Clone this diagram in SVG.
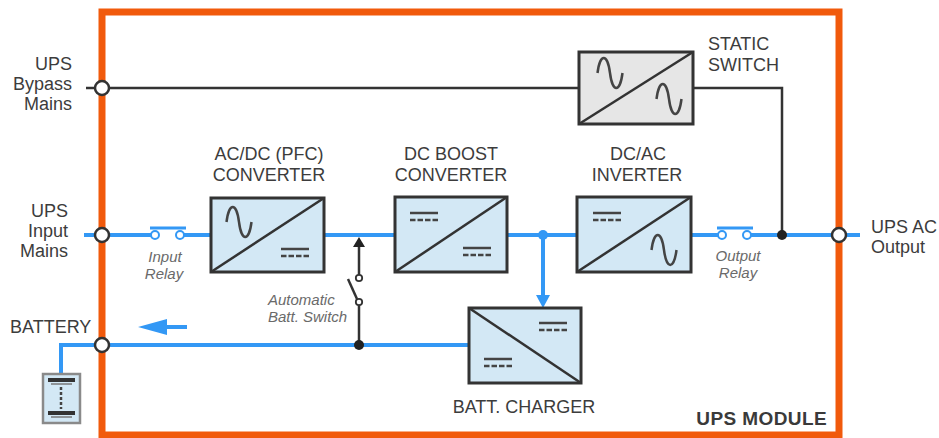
<svg xmlns="http://www.w3.org/2000/svg" xmlns:xlink="http://www.w3.org/1999/xlink" width="939" height="438" viewBox="0 0 939 438">
  <style>
    .lbl{font-family:"Liberation Sans",Arial,sans-serif;font-size:18px;fill:#3c3c3c}
    .it{font-family:"Liberation Sans",Arial,sans-serif;font-size:15px;font-style:italic;fill:#6a6a6a}
    .bold{font-family:"Liberation Sans",Arial,sans-serif;font-size:19px;font-weight:bold;fill:#3a3a3a;letter-spacing:0.4px}
    .box{fill:#D3E8F5;stroke:#333;stroke-width:3}
    .gbox{fill:#E6E6E6;stroke:#333;stroke-width:3}
    .diag{stroke:#333;stroke-width:2.5}
    .sym{fill:none;stroke:#444;stroke-width:2.5}
    .blue{fill:none;stroke:#3398F5;stroke-width:4}
    .dark{fill:none;stroke:#333;stroke-width:2.5}
    .term{fill:#fff;stroke:#333;stroke-width:2.5}
    .rc{fill:#fff;stroke:#3398F5;stroke-width:2}
  </style>
  <defs>
    <path id="sine" d="M-12.5,0 C-10,-20 -2.5,-20 0,0 C2.5,20 10,20 12.5,0" class="sym"/>
    <g id="dc" class="sym">
      <line x1="0" y1="0" x2="28" y2="0"/>
      <line x1="0" y1="7" x2="28" y2="7" stroke-dasharray="5.5 2"/>
    </g>
  </defs>
  <rect width="939" height="438" fill="#fff"/>

  <!-- UPS module frame -->
  <g id="frame">
    <rect x="102" y="12" width="737" height="423" fill="none" stroke="#F15A0C" stroke-width="7"/>
    <text class="bold" x="827" y="425" text-anchor="end">UPS MODULE</text>
  </g>

  <!-- connectors -->
  <g id="connectors">
    <!-- bypass -->
    <line class="dark" x1="86" y1="88" x2="579" y2="88"/>
    <polyline class="dark" points="693,88 782,88 782,236"/>
    <!-- main input line -->
    <line class="blue" x1="84" y1="235" x2="151" y2="235"/>
    <line class="blue" x1="184" y1="235" x2="211" y2="235"/>
    <line class="blue" x1="324" y1="235" x2="395" y2="235"/>
    <line class="blue" x1="507" y1="235" x2="577" y2="235"/>
    <line class="blue" x1="691" y1="235" x2="718" y2="235"/>
    <line class="blue" x1="751" y1="235" x2="860" y2="235"/>
    <!-- charger feed -->
    <line class="blue" x1="543" y1="235" x2="543" y2="297"/>
    <polygon points="536,295 550,295 543,308" fill="#3398F5"/>
    <circle cx="543" cy="235" r="5" fill="#3398F5"/>
    <!-- battery line -->
    <polyline class="blue" points="469,345 61,345 61,374"/>
    <!-- discharge arrow -->
    <line class="blue" x1="187" y1="327" x2="162" y2="327"/>
    <polygon points="138,327 167,319 167,335" fill="#3398F5"/>
    <!-- output junction -->
    <circle cx="782" cy="235" r="5" fill="#222"/>
  </g>

  <!-- Input relay -->
  <g id="input-relay">
    <line x1="150" y1="228" x2="186" y2="228" stroke="#3398F5" stroke-width="3"/>
    <circle class="rc" cx="155" cy="235" r="4"/>
    <circle class="rc" cx="180" cy="235" r="4"/>
    <text class="it" x="165" y="262" text-anchor="middle">Input</text>
    <text class="it" x="164" y="279" text-anchor="middle">Relay</text>
  </g>

  <!-- Output relay -->
  <g id="output-relay">
    <line x1="717" y1="228" x2="753" y2="228" stroke="#3398F5" stroke-width="3"/>
    <circle class="rc" cx="722" cy="235" r="4"/>
    <circle class="rc" cx="747" cy="235" r="4"/>
    <text class="it" x="738" y="261" text-anchor="middle">Output</text>
    <text class="it" x="738" y="278" text-anchor="middle">Relay</text>
  </g>

  <!-- Automatic battery switch -->
  <g id="batt-switch">
    <line class="dark" x1="359" y1="245" x2="359" y2="275"/>
    <polygon points="353,247 365,247 359,237" fill="#222"/>
    <circle cx="359" cy="278" r="3.2" fill="#fff" stroke="#333" stroke-width="1.8"/>
    <circle cx="359" cy="302" r="3.2" fill="#fff" stroke="#333" stroke-width="1.8"/>
    <line class="dark" x1="357" y1="299" x2="348" y2="279"/>
    <line class="dark" x1="359" y1="305" x2="359" y2="345"/>
    <circle cx="359" cy="345" r="5" fill="#222"/>
    <text class="it" x="268" y="305">Automatic</text>
    <text class="it" x="268" y="322">Batt. Switch</text>
  </g>

  <!-- AC/DC converter -->
  <g id="acdc">
    <rect class="box" x="211" y="198" width="113" height="74"/>
    <line class="diag" x1="211" y1="272" x2="324" y2="198"/>
    <use xlink:href="#sine" x="239" y="222"/>
    <use xlink:href="#dc" x="281" y="249"/>
    <text class="lbl" x="269" y="160" text-anchor="middle">AC/DC (PFC)</text>
    <text class="lbl" x="269" y="181" text-anchor="middle">CONVERTER</text>
  </g>

  <!-- DC boost converter -->
  <g id="boost">
    <rect class="box" x="395" y="197" width="112" height="75"/>
    <line class="diag" x1="395" y1="272" x2="507" y2="197"/>
    <use xlink:href="#dc" x="410" y="213"/>
    <use xlink:href="#dc" x="463" y="248"/>
    <text class="lbl" x="451" y="160" text-anchor="middle">DC BOOST</text>
    <text class="lbl" x="451" y="181" text-anchor="middle">CONVERTER</text>
  </g>

  <!-- DC/AC inverter -->
  <g id="inverter">
    <rect class="box" x="577" y="197" width="114" height="75"/>
    <line class="diag" x1="577" y1="272" x2="691" y2="197"/>
    <use xlink:href="#dc" x="593" y="213"/>
    <use xlink:href="#sine" x="664" y="250"/>
    <text class="lbl" x="638" y="160" text-anchor="middle">DC/AC</text>
    <text class="lbl" x="637" y="181" text-anchor="middle">INVERTER</text>
  </g>

  <!-- Static switch -->
  <g id="static-switch">
    <rect class="gbox" x="579" y="52" width="114" height="72"/>
    <line class="diag" x1="579" y1="124" x2="693" y2="52"/>
    <use xlink:href="#sine" x="610" y="73"/>
    <use xlink:href="#sine" x="669" y="99"/>
    <text class="lbl" x="708" y="50">STATIC</text>
    <text class="lbl" x="708" y="71">SWITCH</text>
  </g>

  <!-- Battery charger -->
  <g id="charger">
    <rect class="box" x="469" y="308" width="112" height="75"/>
    <line class="diag" x1="469" y1="308" x2="581" y2="383"/>
    <use xlink:href="#dc" x="539" y="323"/>
    <use xlink:href="#dc" x="484" y="359"/>
    <text class="lbl" x="524" y="413" text-anchor="middle">BATT. CHARGER</text>
  </g>

  <!-- Battery -->
  <g id="battery">
    <rect x="43" y="374" width="37" height="49" fill="#D3E8F5" stroke="#8a8a8a" stroke-width="2.5"/>
    <line x1="48" y1="380" x2="75" y2="380" stroke="#333" stroke-width="4"/>
    <line x1="51" y1="384" x2="72" y2="384" stroke="#777" stroke-width="1.5"/>
    <line x1="48" y1="413" x2="75" y2="413" stroke="#333" stroke-width="4"/>
    <line x1="51" y1="417" x2="72" y2="417" stroke="#777" stroke-width="1.5"/>
    <line x1="61" y1="387" x2="61" y2="409" stroke="#444" stroke-width="2.5" stroke-dasharray="3 2"/>
  </g>

  <!-- Terminals -->
  <g id="terminals">
    <circle class="term" cx="102" cy="88" r="7"/>
    <circle class="term" cx="102" cy="235" r="7"/>
    <circle class="term" cx="102" cy="345" r="7"/>
    <circle class="term" cx="839" cy="235" r="7"/>
  </g>

  <!-- External labels -->
  <g id="bypass-label">
    <text class="lbl" x="72" y="70" text-anchor="end">UPS</text>
    <text class="lbl" x="72" y="90" text-anchor="end">Bypass</text>
    <text class="lbl" x="72" y="110" text-anchor="end">Mains</text>
  </g>
  <g id="input-label">
    <text class="lbl" x="68" y="217" text-anchor="end">UPS</text>
    <text class="lbl" x="68" y="237" text-anchor="end">Input</text>
    <text class="lbl" x="68" y="257" text-anchor="end">Mains</text>
  </g>
  <g id="battery-label">
    <text class="lbl" x="10" y="333">BATTERY</text>
  </g>
  <g id="output-label">
    <text class="lbl" x="871" y="233">UPS AC</text>
    <text class="lbl" x="871" y="253">Output</text>
  </g>
</svg>
